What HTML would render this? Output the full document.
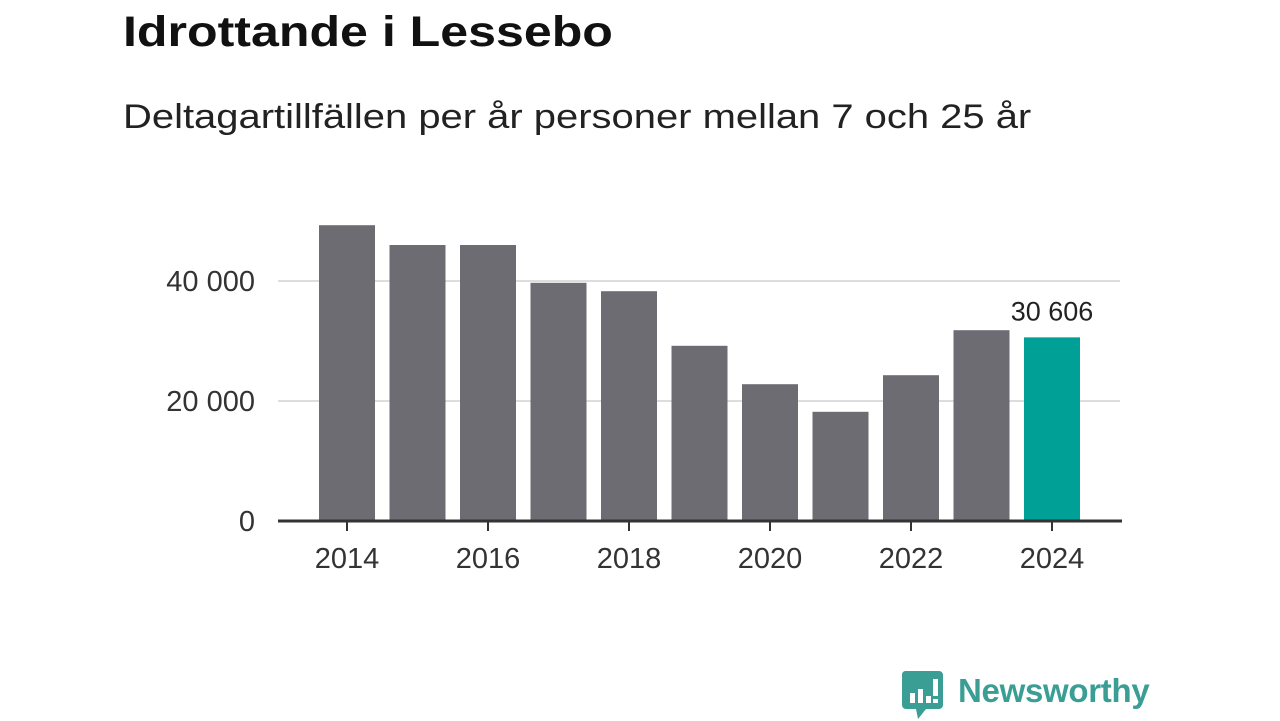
<!DOCTYPE html>
<html><head><meta charset="utf-8"><style>
body{margin:0;width:1280px;height:720px;background:#fff;font-family:"Liberation Sans",sans-serif;overflow:hidden;position:relative}
h1{position:absolute;left:123px;top:8px;margin:0;font-size:43px;font-weight:bold;color:#111;transform:scaleX(1.165);transform-origin:left top;white-space:nowrap}
.sub{position:absolute;left:123px;top:98px;font-size:34px;color:#222;transform:scaleX(1.175);transform-origin:left top;white-space:nowrap}
</style></head><body>
<h1>Idrottande i Lessebo</h1>
<div class="sub">Deltagartillfällen per år personer mellan 7 och 25 år</div>
<svg id="c" width="1280" height="720" style="position:absolute;left:0;top:0"></svg>
<svg style="position:absolute;left:902px;top:671px" width="42" height="50">
<path d="M3 0h34a4 4 0 0 1 4 4v30a4 4 0 0 1-4 4H24l-8 10-2-10H4a4 4 0 0 1-4-4V4a4 4 0 0 1 3-4z" fill="#3a9e94"/>
<rect x="8" y="22" width="5" height="10" fill="#fff"/><rect x="16" y="18" width="5" height="14" fill="#fff"/><rect x="24" y="25" width="5" height="7" fill="#fff"/><rect x="31" y="8" width="5" height="17" fill="#fff"/><rect x="31" y="28" width="5" height="4" fill="#fff"/>
</svg>
<div style="position:absolute;left:958px;top:672px;font-size:33px;color:#3a9e94;font-weight:bold;letter-spacing:-0.3px">Newsworthy</div>
<script>
const years=[2014,2015,2016,2017,2018,2019,2020,2021,2022,2023,2024];
const values=[49300,46000,46000,39700,38300,29200,22800,18200,24300,31800,30606];
const yTicks=[0,20000,40000];
const yTickLabels=["0","20 000","40 000"];
const highlightLabel="30 606";
const svg=document.getElementById('c');const NS='http://www.w3.org/2000/svg';
const y=v=>521-v*0.006;const x=i=>347+i*70.5;
function mk(t,a){const e=document.createElementNS(NS,t);for(const k in a)e.setAttribute(k,a[k]);svg.appendChild(e);return e;}
yTicks.forEach((t,i)=>{if(t>0){const g=mk('line',{x1:278,x2:1120,y1:y(t),y2:y(t),stroke:'#ddd','stroke-width':2});}
const l=mk('text',{x:255,y:y(t)+10,'text-anchor':'end','font-size':29,fill:'#333','font-family':'Liberation Sans'});l.textContent=yTickLabels[i];});
values.forEach((v,i)=>{const last=i===values.length-1;const b=mk('rect',{x:x(i)-28,y:y(v),width:56,height:521-y(v),fill:last?'#00a096':'#6d6c73'});
if(years[i]%2===0){mk('line',{x1:x(i),x2:x(i),y1:521,y2:531,stroke:'#333','stroke-width':2});const t=mk('text',{x:x(i),y:568,'text-anchor':'middle','font-size':29,fill:'#333','font-family':'Liberation Sans'});t.textContent=years[i];}
if(last){const t=mk('text',{x:x(i),y:y(v)-17,'text-anchor':'middle','font-size':27,fill:'#222','font-family':'Liberation Sans'});t.textContent=highlightLabel;}});
const a=mk('line',{x1:278,x2:1122,y1:521,y2:521,stroke:'#333','stroke-width':3});
</script>
</body></html>
